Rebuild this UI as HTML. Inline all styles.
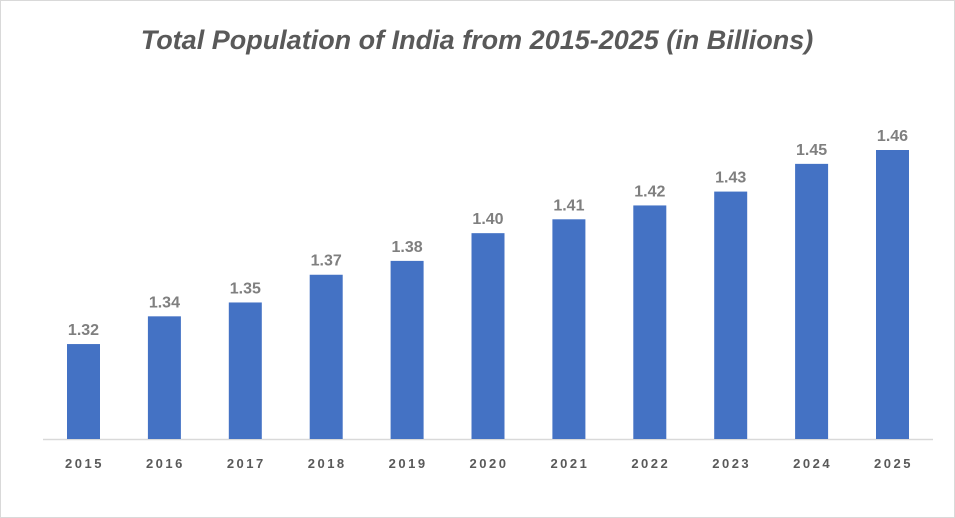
<!DOCTYPE html>
<html><head><meta charset="utf-8"><style>
body{margin:0;background:#fff;}
svg{display:block;font-family:"Liberation Sans",sans-serif;}
</style></head><body>
<svg id="chart" width="955" height="518" viewBox="0 0 955 518">
<rect x="0.5" y="0.5" width="954" height="517" fill="#fff" stroke="#d9d9d9"/>
<text x="477" y="49" text-anchor="middle" font-size="27" font-weight="bold" font-style="italic" fill="#595959">Total Population  of India from 2015-2025 (in Billions)</text>
<line x1="43" y1="439.5" x2="933" y2="439.5" stroke="#d9d9d9" stroke-width="1.5"/>
<g id="bars"></g>
</svg>
<script>
const years = ["2015","2016","2017","2018","2019","2020","2021","2022","2023","2024","2025"];
const population = [1.32,1.34,1.35,1.37,1.38,1.40,1.41,1.42,1.43,1.45,1.46];
const valueLabels = ["1.32","1.34","1.35","1.37","1.38","1.40","1.41","1.42","1.43","1.45","1.46"];
const yMin = 1.2515, yMax = 1.46;
const baseY = 439, topY = 150;
function yScale(v){ return baseY - (v - yMin) / (yMax - yMin) * (baseY - topY); }
function xCenter(i){ return 83.5 + i * 80.9; }
const ns = "http://www.w3.org/2000/svg";
const g = document.getElementById("bars");
const bw = 33;
population.forEach((v, i) => {
  const cx = xCenter(i), y = yScale(v);
  const r = document.createElementNS(ns, "rect");
  r.setAttribute("x", cx - bw/2); r.setAttribute("y", y);
  r.setAttribute("width", bw); r.setAttribute("height", baseY - y);
  r.setAttribute("fill", "#4472c4");
  
  
  g.appendChild(r);
  const t = document.createElementNS(ns, "text");
  t.setAttribute("x", cx); t.setAttribute("y", y - 9);
  t.setAttribute("text-anchor", "middle"); t.setAttribute("font-size", "16");
  t.setAttribute("font-weight", "bold"); t.setAttribute("fill", "#7f7f7f");
  t.textContent = valueLabels[i];
  
  
  g.appendChild(t);
  const xl = document.createElementNS(ns, "text");
  xl.setAttribute("x", cx + 1); xl.setAttribute("y", 468);
  xl.setAttribute("text-anchor", "middle"); xl.setAttribute("font-size", "13");
  xl.setAttribute("font-weight", "bold"); xl.setAttribute("fill", "#595959");
  xl.setAttribute("letter-spacing", "2.5");
  xl.textContent = years[i];
  
  
  g.appendChild(xl);
});
</script>
</body></html>
